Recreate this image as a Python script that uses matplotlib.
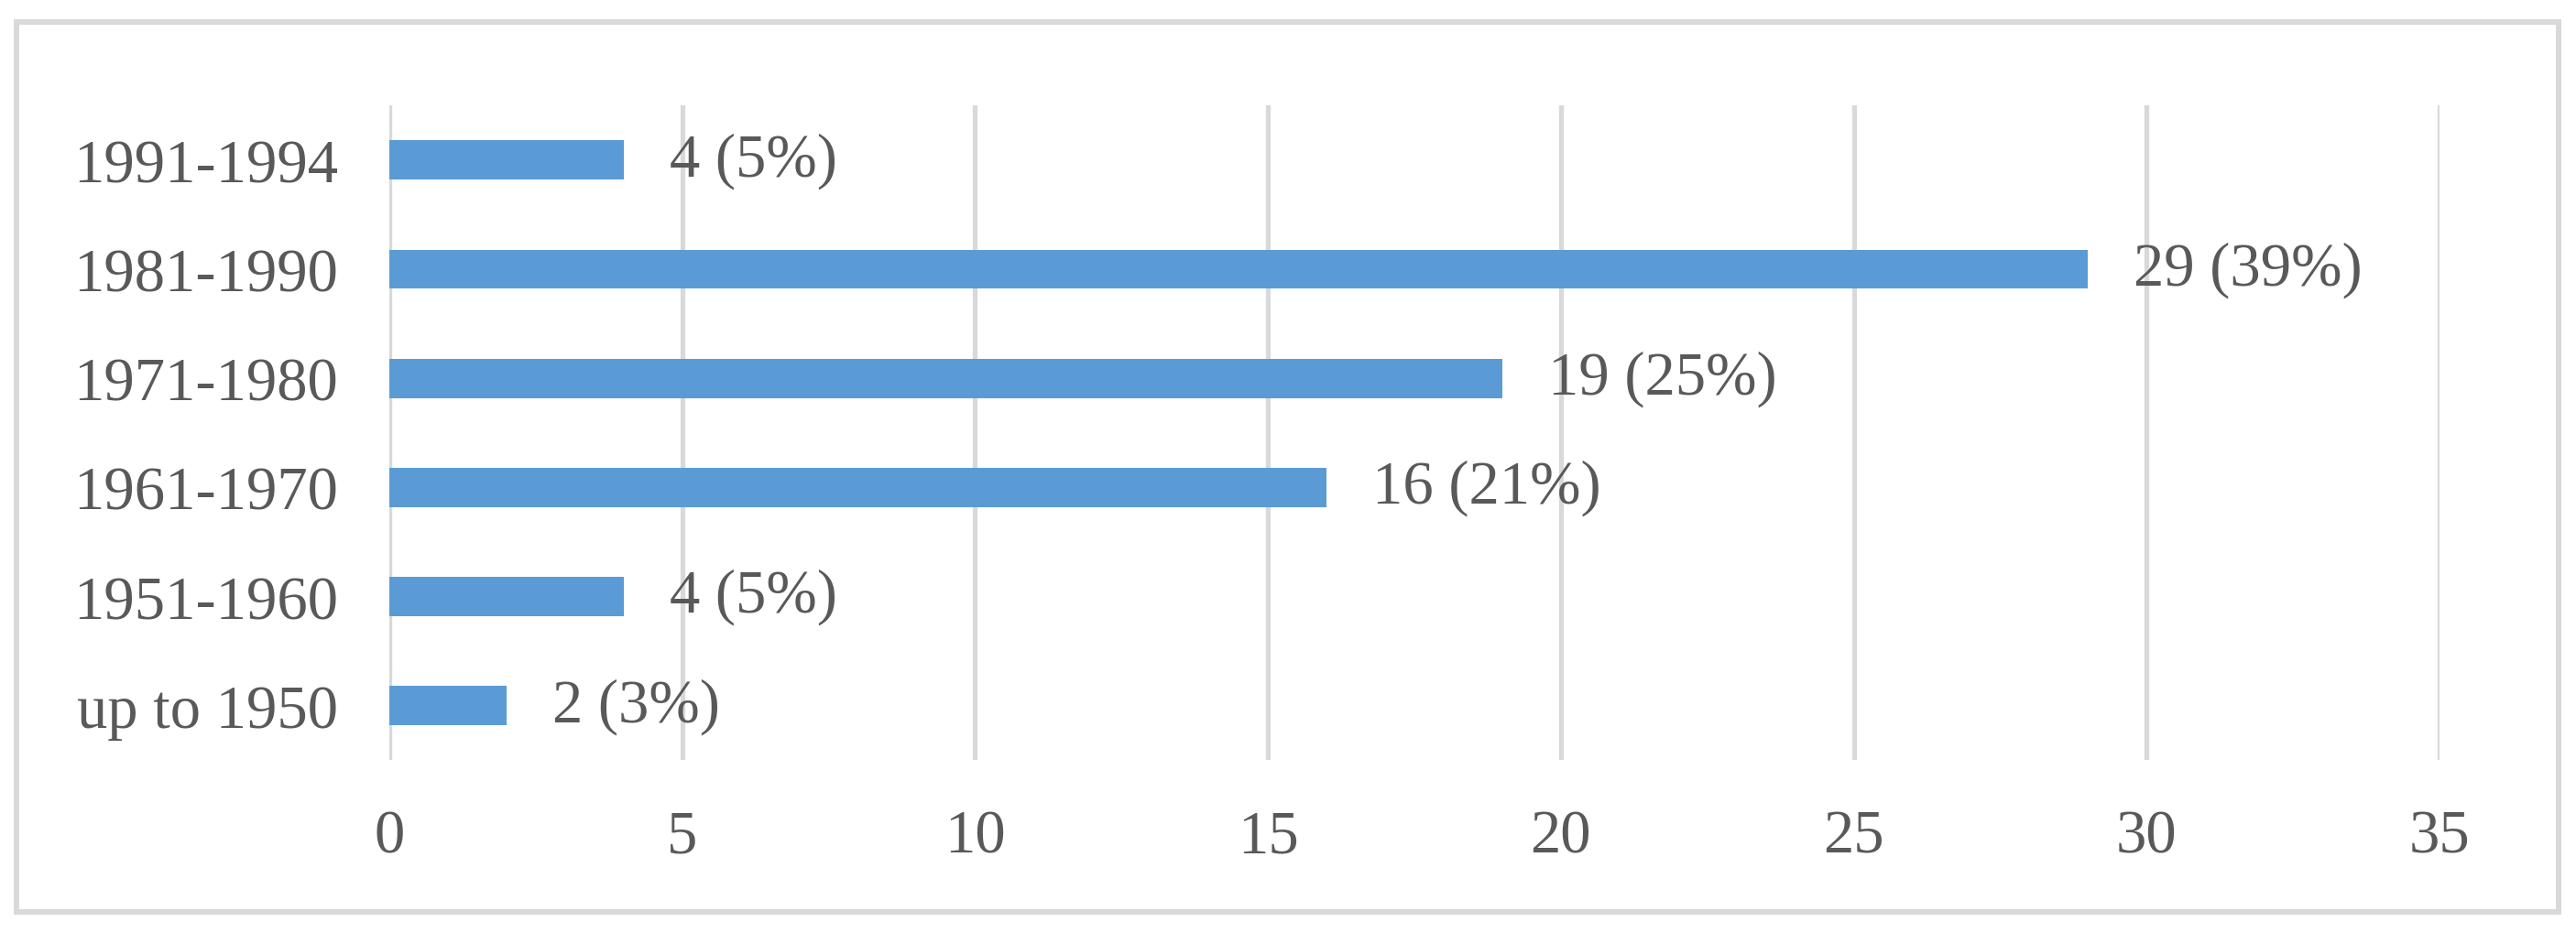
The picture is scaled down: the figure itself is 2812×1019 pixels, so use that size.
import matplotlib.pyplot as plt
from matplotlib.patches import Rectangle

# data
periods = ["up to 1950", "1951-1960", "1961-1970", "1971-1980", "1981-1990", "1991-1994"]
counts = [2, 4, 16, 19, 29, 4]
shares = [3, 5, 21, 25, 39, 5]
x_ticks = [0, 5, 10, 15, 20, 25, 30, 35]

bar_color = "#5B9BD5"
grid_color = "#D9D9D9"
text_color = "#595959"

plt.rcParams["font.family"] = ["Liberation Serif", "DejaVu Serif"]

fig = plt.figure(figsize=(28.12, 10.2), dpi=100)
ax = fig.add_axes([0.1511, 0.185, 0.947 - 0.1511, 0.886 - 0.185])

y = list(range(len(periods)))
ax.barh(y, counts, height=0.36, color=bar_color, zorder=3)

for yi, c, s in zip(y, counts, shares):
    ax.annotate(f"{c} ({s}%)", (c, yi), xytext=(36, 0), textcoords="offset points",
                ha="left", va="center", fontsize=48, color=text_color, zorder=4)

ax.set_xlim(0, 35)
ax.set_ylim(-0.5, len(periods) - 0.5)
ax.set_xticks(x_ticks)
ax.set_yticks(y)
ax.set_yticklabels(periods)
ax.tick_params(axis="both", length=0, labelsize=48, labelcolor=text_color)
ax.tick_params(axis="x", pad=38)
ax.tick_params(axis="y", pad=40)

ax.grid(axis="x", color=grid_color, linewidth=3.8, zorder=0)
for sp in ax.spines.values():
    sp.set_visible(False)

# outer chart border
fig.patches.append(Rectangle((0.0064, 0.0225), 0.9869, 0.953, transform=fig.transFigure,
                             fill=False, edgecolor=grid_color, linewidth=4.3))

fig.savefig("out.png", dpi=100)
